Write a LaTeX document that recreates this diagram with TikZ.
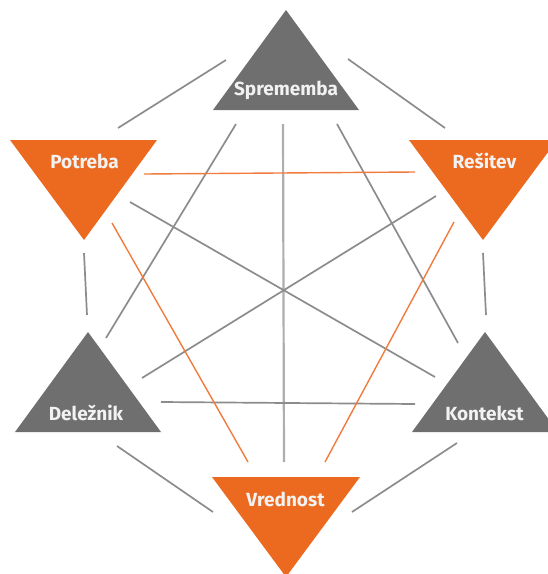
\documentclass[tikz,border=0pt]{standalone}
\usepackage{fontspec}
\setsansfont{Fira Sans}
\usepackage{tikz}

\definecolor{triorange}{HTML}{EC6A1F}
\definecolor{trigray}{HTML}{6F6F6F}
\definecolor{linkgray}{HTML}{8C8C8C}
\definecolor{linklight}{HTML}{AEAEAE}
\definecolor{linkorange}{HTML}{F07B3C}
\definecolor{lbltext}{HTML}{F2F2F2}

\tikzset{
    gtri/.style={fill=trigray},
    otri/.style={fill=triorange},
    lbl/.style={font=\sffamily\bfseries\fontsize{19}{19}\selectfont, text=lbltext, inner sep=0pt, anchor=base},
    glink/.style={draw=linkgray, line width=1.7pt},
    olink/.style={draw=linkorange, line width=1.4pt},
}

\begin{document}
\begin{tikzpicture}[x=1pt, y=-1pt]
    \useasboundingbox (0, 0) rectangle (548, 574);

    \fill [gtri] (213, 110) -- (286, 10) -- (359, 110) -- cycle;
    \fill [otri] (10, 140) -- (157, 140) -- (84, 240) -- cycle;
    \fill [otri] (409, 140) -- (557, 140) -- (483, 240) -- cycle;
    \fill [gtri] (15, 432) -- (88, 332) -- (161, 432) -- cycle;
    \fill [gtri] (412, 432) -- (485, 332) -- (558, 432) -- cycle;
    \fill [otri] (212, 477) -- (360, 477) -- (286, 577) -- cycle;

    \node [lbl] (spr) at (286, 95) {Sprememba};
    \node [lbl] (pot) at (84.5, 168) {Potreba};
    \node [lbl] (res) at (484.5, 168) {Rešitev};
    \node [lbl] (del) at (86, 420) {Deležnik};
    \node [lbl] (kon) at (484.5, 420) {Kontekst};
    \node [lbl] (vre) at (285.5, 506) {Vrednost};

    \coordinate (spr-pot) at (226, 60);
    \coordinate (pot-spr) at (118, 128);
    \coordinate (spr-res) at (348, 59);
    \coordinate (res-spr) at (445, 128);
    \coordinate (pot-del) at (84, 253);
    \coordinate (del-pot) at (87, 315);
    \coordinate (res-kon) at (483, 253);
    \coordinate (kon-res) at (486, 315);
    \coordinate (del-vre) at (117, 446);
    \coordinate (vre-del) at (213, 512);
    \coordinate (kon-vre) at (457, 443);
    \coordinate (vre-kon) at (352, 512);

    \coordinate (spr-del) at (236, 124);
    \coordinate (del-spr) at (106, 338);
    \coordinate (spr-vre) at (283, 124);
    \coordinate (vre-spr) at (284, 462);
    \coordinate (spr-kon) at (337, 124);
    \coordinate (kon-spr) at (458, 343);
    \coordinate (pot-kon) at (130, 202);
    \coordinate (kon-pot) at (435, 377);
    \coordinate (res-del) at (436, 196);
    \coordinate (del-res) at (142, 378);
    \coordinate (del-kon) at (161, 402);
    \coordinate (kon-del) at (415, 404);

    \coordinate (pot-res) at (144, 174);
    \coordinate (res-pot) at (415, 172);
    \coordinate (pot-vre) at (112, 223);
    \coordinate (vre-pot) at (248, 462);
    \coordinate (res-vre) at (454, 222);
    \coordinate (vre-res) at (325, 462);

    \draw [glink] (spr-pot) -- (pot-spr);
    \draw [glink] (spr-res) -- (res-spr);
    \draw [glink] (pot-del) -- (del-pot);
    \draw [glink] (res-kon) -- (kon-res);
    \draw [glink] (del-vre) -- (vre-del);
    \draw [glink] (kon-vre) -- (vre-kon);

    \draw [glink] (spr-del) -- (del-spr);
    \draw [glink, draw=linklight, line width=2.2pt] (spr-vre) -- (vre-spr);
    \draw [glink] (spr-kon) -- (kon-spr);
    \draw [glink] (pot-kon) -- (kon-pot);
    \draw [glink] (res-del) -- (del-res);
    \draw [glink] (del-kon) -- (kon-del);

    \draw [olink] (pot-res) -- (res-pot);
    \draw [olink] (pot-vre) -- (vre-pot);
    \draw [olink] (res-vre) -- (vre-res);
\end{tikzpicture}
\end{document}
